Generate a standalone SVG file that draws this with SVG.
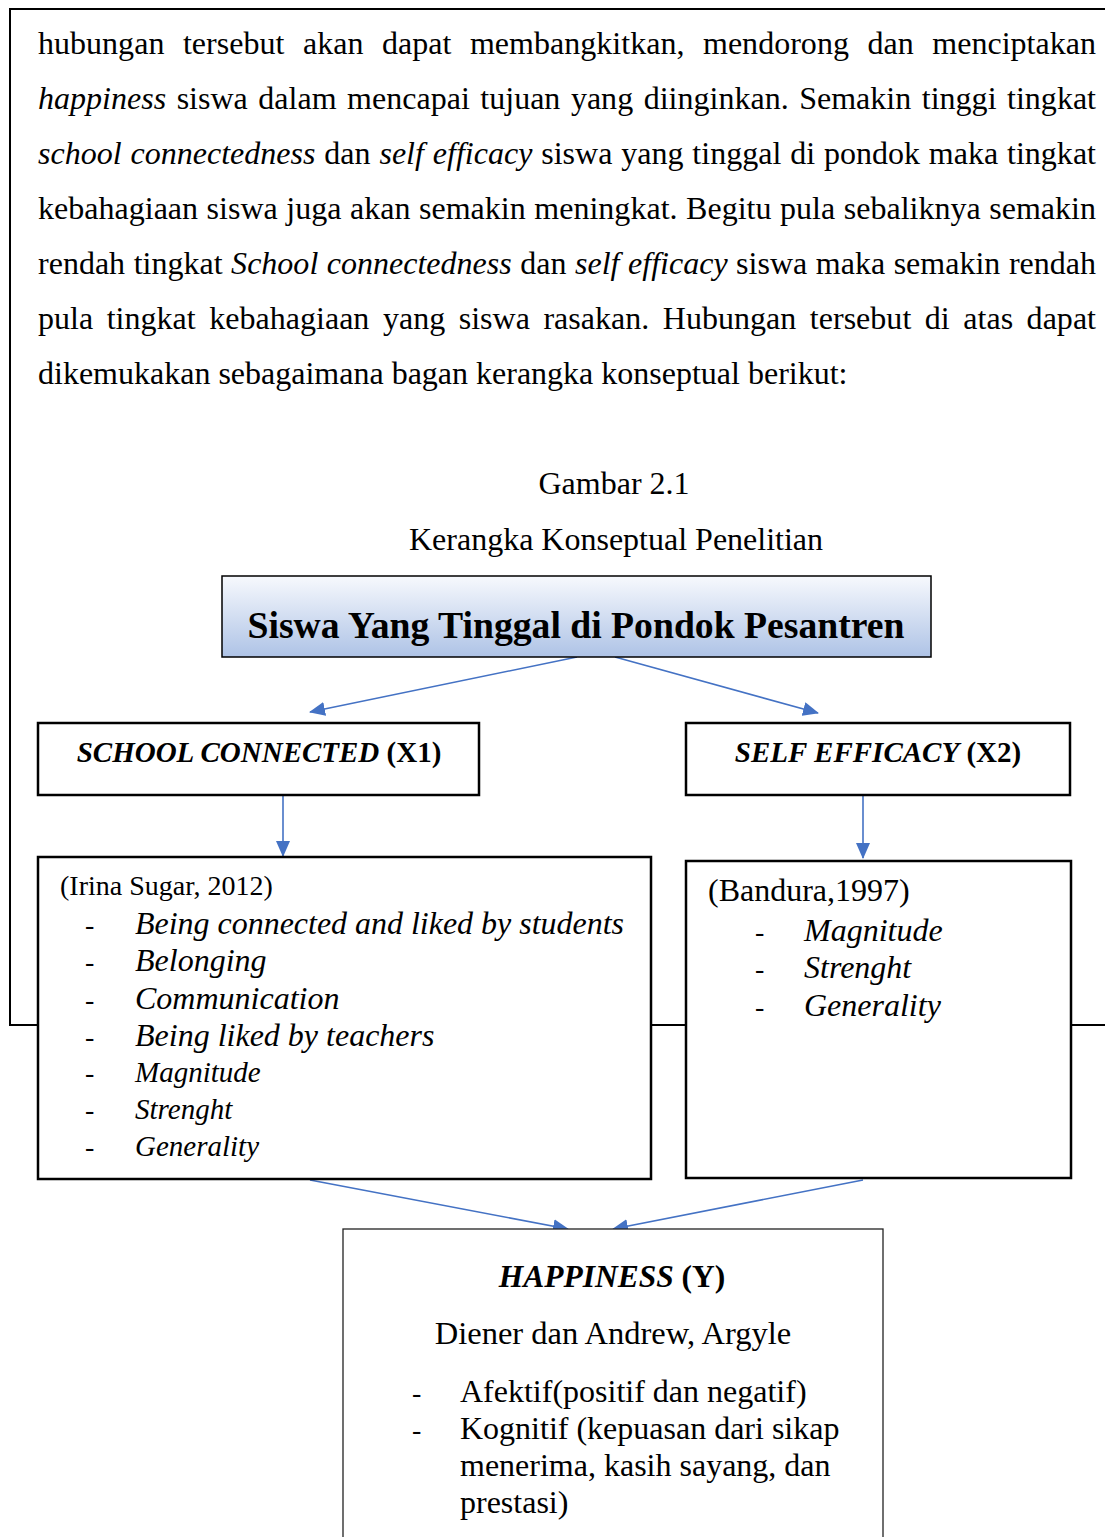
<svg xmlns="http://www.w3.org/2000/svg" width="1105" height="1537" viewBox="0 0 1105 1537">
<defs>
<linearGradient id="gTitle" x1="0" y1="0" x2="0" y2="1">
<stop offset="0" stop-color="#f7f9fd"/>
<stop offset="1" stop-color="#aec3e6"/>
</linearGradient>
<marker id="arrBig" viewBox="0 0 16 14" refX="15" refY="7" markerWidth="16" markerHeight="14" markerUnits="userSpaceOnUse" orient="auto">
<path d="M0,0 L16,7 L0,14 Z" fill="#4472c4"/>
</marker>
</defs>
<style>
text{font-family:"Liberation Serif","Times New Roman",serif;fill:#000}
.body{font-size:32px}
.i{font-style:italic}
.b{font-weight:bold}
.box{fill:#fff;stroke:#000;stroke-width:2.5}
.thin{fill:#fff;stroke:#222;stroke-width:1.3}
.frame{fill:none;stroke:#000;stroke-width:2}
.conn{stroke:#4472c4;stroke-width:1.6;fill:none}
.it{font-style:italic;font-size:32px}
.its{font-style:italic;font-size:29px}
.dash{font-size:28px}
</style>
<rect width="1105" height="1537" fill="#fff"/>
<g id="frame">
<path class="frame" d="M1105,9 L10,9 L10,1025 L1105,1025"/>
</g>
<g id="paragraph" class="body">
<text x="38" y="54" word-spacing="10.5" textLength="1058" lengthAdjust="spacing">hubungan tersebut akan dapat membangkitkan, mendorong dan menciptakan</text>
<text x="38" y="109" word-spacing="2.5" textLength="1058" lengthAdjust="spacing"><tspan class="i">happiness</tspan> siswa dalam mencapai tujuan yang diinginkan. Semakin tinggi tingkat</text>
<text x="38" y="164" word-spacing="0.8" textLength="1058" lengthAdjust="spacing"><tspan class="i">school connectedness</tspan> dan <tspan class="i">self efficacy</tspan> siswa yang tinggal di pondok maka tingkat</text>
<text x="38" y="219" word-spacing="0.5" textLength="1058" lengthAdjust="spacing">kebahagiaan siswa juga akan semakin meningkat. Begitu pula sebaliknya semakin</text>
<text x="38" y="274" word-spacing="0.5" textLength="1058" lengthAdjust="spacing">rendah tingkat <tspan class="i">School connectedness</tspan> dan <tspan class="i">self efficacy</tspan> siswa maka semakin rendah</text>
<text x="38" y="329" word-spacing="5.5" textLength="1058" lengthAdjust="spacing">pula tingkat kebahagiaan yang siswa rasakan. Hubungan tersebut di atas dapat</text>
<text x="38" y="384">dikemukakan sebagaimana bagan kerangka konseptual berikut:</text>
</g>
<g id="caption" class="body" text-anchor="middle">
<text x="614" y="494">Gambar 2.1</text>
<text x="616" y="550">Kerangka Konseptual Penelitian</text>
</g>
<g id="connectors">
<line class="conn" x1="577" y1="657" x2="310" y2="712" marker-end="url(#arrBig)"/>
<line class="conn" x1="615" y1="657" x2="818" y2="713" marker-end="url(#arrBig)"/>
<line class="conn" x1="283" y1="796" x2="283" y2="856" marker-end="url(#arrBig)"/>
<line class="conn" x1="863" y1="796" x2="863" y2="858" marker-end="url(#arrBig)"/>
<line class="conn" x1="310" y1="1180" x2="568" y2="1229" marker-end="url(#arrBig)"/>
<line class="conn" x1="863" y1="1180" x2="613" y2="1229" marker-end="url(#arrBig)"/>
</g>
<g id="node-title">
<rect x="222" y="576" width="709" height="81" fill="url(#gTitle)" stroke="#000" stroke-width="1.5"/>
<text x="576" y="638" text-anchor="middle" class="b" font-size="37" textLength="657" lengthAdjust="spacingAndGlyphs">Siswa Yang Tinggal di Pondok Pesantren</text>
</g>
<g id="node-x1">
<rect class="box" x="38" y="723" width="441" height="72"/>
<text x="259" y="762" text-anchor="middle" font-size="29" class="b"><tspan class="i">SCHOOL CONNECTED</tspan> (X1)</text>
</g>
<g id="node-x2">
<rect class="box" x="686" y="723" width="384" height="72"/>
<text x="878" y="762" text-anchor="middle" font-size="29" class="b"><tspan class="i">SELF EFFICACY</tspan> (X2)</text>
</g>
<g id="node-x1-indicators">
<rect class="box" x="38" y="857" width="613" height="322"/>
<text x="60" y="895" font-size="28">(Irina Sugar, 2012)</text>
<g class="dash">
<text x="85" y="934">-</text>
<text x="85" y="971">-</text>
<text x="85" y="1009">-</text>
<text x="85" y="1046">-</text>
<text x="85" y="1082">-</text>
<text x="85" y="1119">-</text>
<text x="85" y="1156">-</text>
</g>
<text x="135" y="934" class="it" textLength="489" lengthAdjust="spacingAndGlyphs">Being connected and liked by students</text>
<text x="135" y="971" class="it">Belonging</text>
<text x="135" y="1009" class="it">Communication</text>
<text x="135" y="1046" class="it">Being liked by teachers</text>
<text x="135" y="1082" class="its">Magnitude</text>
<text x="135" y="1119" class="its">Strenght</text>
<text x="135" y="1156" class="its">Generality</text>
</g>
<g id="node-x2-indicators">
<rect class="box" x="686" y="861" width="385" height="317"/>
<text x="708" y="901" font-size="32">(Bandura,1997)</text>
<g class="dash">
<text x="755" y="941">-</text>
<text x="755" y="978">-</text>
<text x="755" y="1016">-</text>
</g>
<text x="804" y="941" class="it">Magnitude</text>
<text x="804" y="978" class="it">Strenght</text>
<text x="804" y="1016" class="it">Generality</text>
</g>
<g id="node-y">
<rect class="thin" x="343" y="1229" width="540" height="320"/>
<text x="612" y="1287" text-anchor="middle" font-size="31.5" class="b"><tspan class="i">HAPPINESS</tspan> (Y)</text>
<text x="613" y="1344" text-anchor="middle" font-size="32.5">Diener dan Andrew, Argyle</text>
<g class="dash">
<text x="412" y="1402">-</text>
<text x="412" y="1439">-</text>
</g>
<g font-size="32">
<text x="460" y="1402">Afektif(positif dan negatif)</text>
<text x="460" y="1439">Kognitif (kepuasan dari sikap</text>
<text x="460" y="1476">menerima, kasih sayang, dan</text>
<text x="460" y="1513">prestasi)</text>
</g>
</g>
</svg>
